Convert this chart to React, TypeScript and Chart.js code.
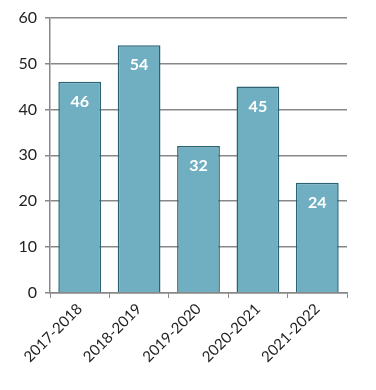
import React, { useEffect, useRef } from "react";
import { Chart, registerables } from "chart.js";

Chart.register(...registerables);

const categories = ["2017-2018", "2018-2019", "2019-2020", "2020-2021", "2021-2022"];
const values = [46, 54, 32, 45, 24];
const yTicks = [0, 10, 20, 30, 40, 50, 60];

const FONT = "'Lato', 'Open Sans', sans-serif";

const labelPlugin = {
  id: "barLabels",
  afterDatasetsDraw(chart: any) {
    const ctx = chart.ctx;
    const meta = chart.getDatasetMeta(0);
    ctx.save();
    ctx.fillStyle = "#ffffff";
    ctx.font = `bold 16px ${FONT}`;
    ctx.textAlign = "center";
    ctx.textBaseline = "middle";
    meta.data.forEach((bar: any, i: number) => {
      ctx.fillText(String(values[i]), bar.x, bar.y + 20);
    });
    ctx.restore();
  },
};

export default function App() {
  const ref = useRef<HTMLCanvasElement>(null);
  useEffect(() => {
    document.body.style.margin = "0";
    const chart = new Chart(ref.current!, {
      type: "bar",
      data: {
        labels: categories,
        datasets: [
          {
            data: values,
            backgroundColor: "#70afc1",
            borderColor: "#2b6273",
            borderWidth: 1.5,
            barPercentage: 0.72,
            categoryPercentage: 1,
          },
        ],
      },
      plugins: [labelPlugin],
      options: {
        animation: false,
        responsive: false,
        layout: { padding: { top: 13, right: 29, left: 0, bottom: 0 } },
        plugins: { legend: { display: false }, tooltip: { enabled: false } },
        scales: {
          x: {
            offset: true,
            grid: {
              offset: true,
              drawOnChartArea: false,
              drawTicks: true,
              tickLength: 5,
              color: "#888888",
            },
            border: { display: true, color: "#888888", width: 1.5 },
            ticks: {
              minRotation: 45,
              maxRotation: 45,
              color: "#222222",
              font: { family: FONT, size: 15 },
              padding: 2,
            },
            afterFit(scale: any) {
              scale.height = 97;
            },
          },
          y: {
            min: 0,
            max: 60,
            afterBuildTicks(scale: any) {
              scale.ticks = yTicks.map((v) => ({ value: v }));
            },
            grid: { color: "#888888", tickLength: 5, lineWidth: 1.5 },
            border: { display: true, color: "#888888", width: 1.5 },
            ticks: {
              color: "#222222",
              font: { family: FONT, size: 16 },
              padding: 8,
            },
            afterFit(scale: any) {
              scale.width = 50;
            },
          },
        },
      },
    });
    return () => chart.destroy();
  }, []);
  return <canvas ref={ref} width={376} height={390} style={{ display: "block" }} />;
}
